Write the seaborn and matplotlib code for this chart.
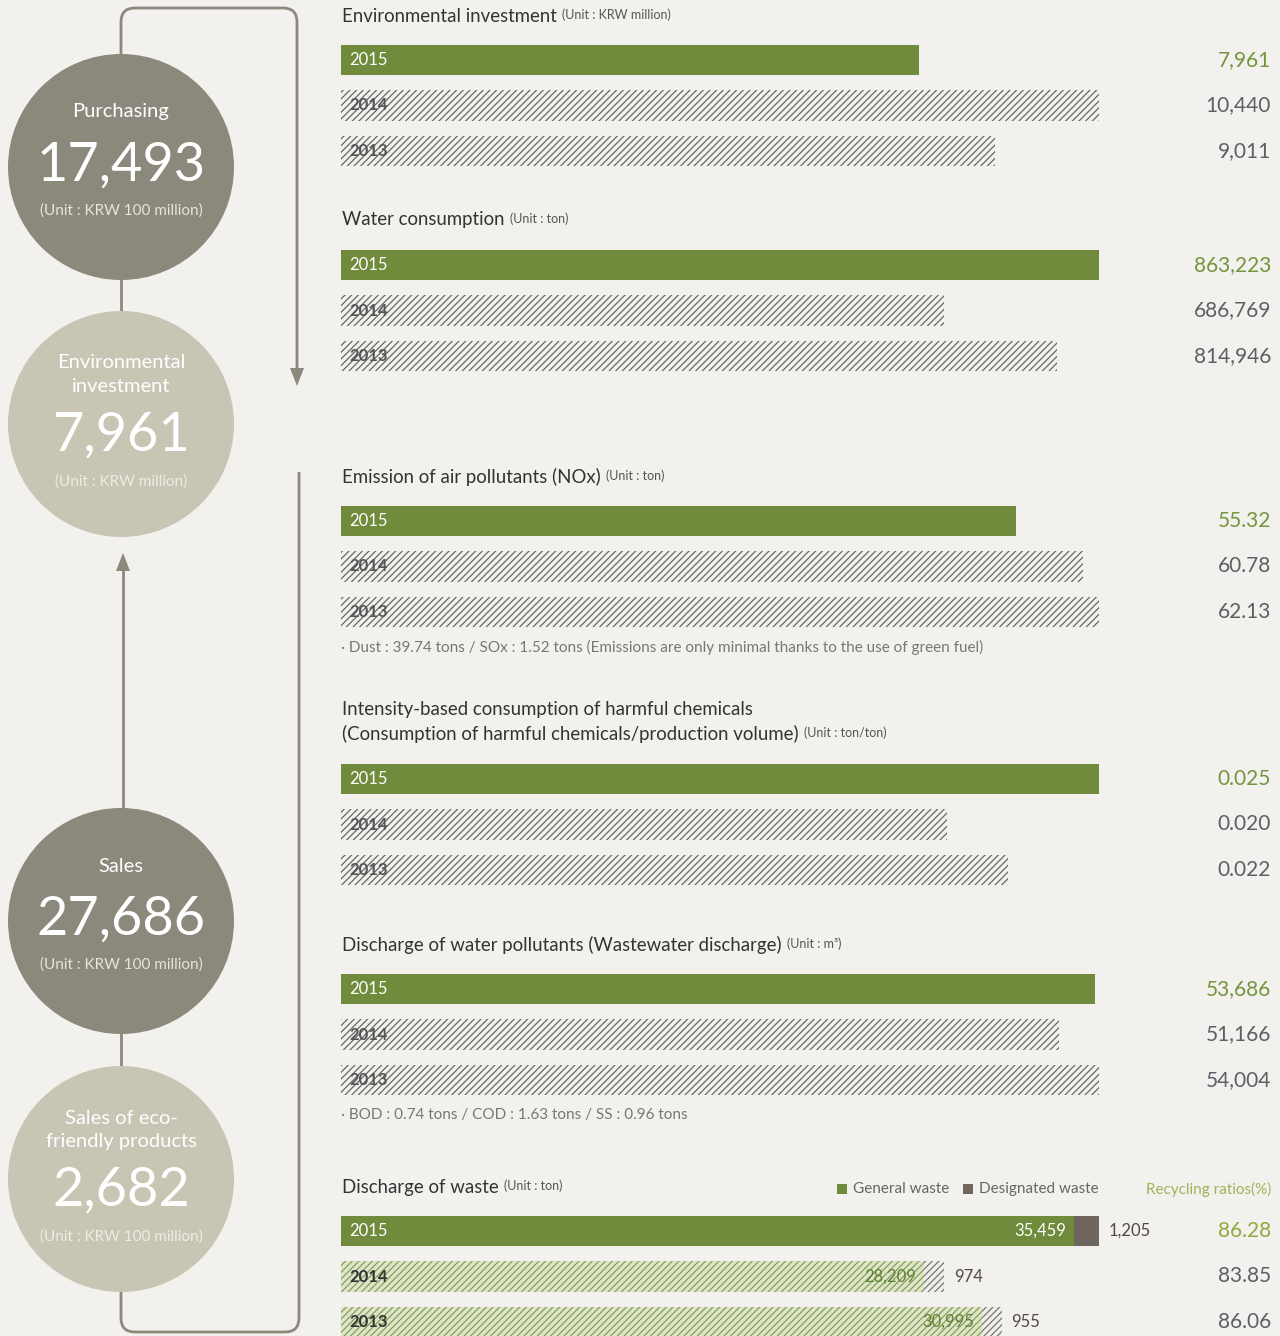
import matplotlib
matplotlib.use("Agg")
import matplotlib.pyplot as plt
from matplotlib.patches import Circle, PathPatch, Polygon
from matplotlib.path import Path
import seaborn as sns

sns.set_theme(style="white")
plt.rcParams['font.family'] = ['Lato', 'DejaVu Sans']
plt.rcParams['hatch.linewidth'] = 0.9

# ---------------- data ----------------
years = ["2015", "2014", "2013"]

invest_vals = [7961, 10440, 9011]
invest_labels = ["7,961", "10,440", "9,011"]

water_vals = [863223, 686769, 814946]
water_labels = ["863,223", "686,769", "814,946"]

nox_vals = [55.32, 60.78, 62.13]
nox_labels = ["55.32", "60.78", "62.13"]

chem_vals = [0.025, 0.020, 0.022]
chem_labels = ["0.025", "0.020", "0.022"]

wastewater_vals = [53686, 51166, 54004]
wastewater_labels = ["53,686", "51,166", "54,004"]

general_waste = [35459, 28209, 30995]
general_labels = ["35,459", "28,209", "30,995"]
designated_waste = [1205, 974, 955]
designated_labels = ["1,205", "974", "955"]
recycling_ratio = ["86.28", "83.85", "86.06"]

circle_titles = ["Purchasing", "Environmental\ninvestment", "Sales", "Sales of eco-\nfriendly products"]
circle_values = ["17,493", "7,961", "27,686", "2,682"]
circle_units = ["(Unit : KRW 100 million)", "(Unit : KRW million)",
                "(Unit : KRW 100 million)", "(Unit : KRW 100 million)"]

# ---------------- style ----------------
BG = "#f2f1ed"
DARK_CIRCLE = "#8b887c"
LIGHT_CIRCLE = "#c8c5b5"
LINE = "#8b887c"
GREEN = "#6f8b3b"
GREEN_TXT = "#74953c"
GRAY_TXT = "#5c5f66"
TITLE = "#333333"
HATCH_GRAY = "#666666"
BROWN = "#6e665c"
HATCH = "/////"

W, H = 1280, 1336
fig = plt.figure(figsize=(W / 100, H / 100), dpi=100, facecolor=BG)

# full-canvas axes in pixel units for the flow diagram and headings
bg = fig.add_axes([0, 0, 1, 1])
bg.set_xlim(0, W)
bg.set_ylim(H, 0)
bg.axis("off")

# ---------- flow diagram on the left ----------
CX, R = 121, 113
centers = [167, 424, 921, 1179]
fills = [DARK_CIRCLE, LIGHT_CIRCLE, DARK_CIRCLE, LIGHT_CIRCLE]
lw = 2.0


def rounded_path(pts, r):
    verts, codes = [pts[0]], [Path.MOVETO]
    for i in range(1, len(pts) - 1):
        p0, p1, p2 = pts[i - 1], pts[i], pts[i + 1]
        d0 = ((p1[0] - p0[0]), (p1[1] - p0[1]))
        d1 = ((p2[0] - p1[0]), (p2[1] - p1[1]))
        n0 = max(abs(d0[0]), abs(d0[1]))
        n1 = max(abs(d1[0]), abs(d1[1]))
        a = (p1[0] - d0[0] / n0 * r, p1[1] - d0[1] / n0 * r)
        b = (p1[0] + d1[0] / n1 * r, p1[1] + d1[1] / n1 * r)
        verts += [a, p1, b]
        codes += [Path.LINETO, Path.CURVE3, Path.CURVE3]
    verts.append(pts[-1])
    codes.append(Path.LINETO)
    return Path(verts, codes)


top_loop = rounded_path([(121, 60), (121, 8), (297, 8), (297, 372)], 14)
bg.add_patch(PathPatch(top_loop, fill=False, edgecolor=LINE, lw=lw))
bottom_loop = rounded_path([(121, 1285), (121, 1332), (299, 1332), (299, 472)], 14)
bg.add_patch(PathPatch(bottom_loop, fill=False, edgecolor=LINE, lw=lw))
# connectors
bg.plot([121, 121], [270, 320], color=LINE, lw=lw)
bg.plot([121, 121], [1024, 1075], color=LINE, lw=lw)
bg.plot([123, 123], [815, 566], color=LINE, lw=lw)
# arrow heads
bg.add_patch(Polygon([(290, 368), (304, 368), (297, 386)], closed=True, color=LINE, lw=0))
bg.add_patch(Polygon([(116, 571), (130, 571), (123, 553)], closed=True, color=LINE, lw=0))

for cy, fc, ttl, val, unit in zip(centers, fills, circle_titles, circle_values, circle_units):
    bg.add_patch(Circle((CX, cy), R, facecolor=fc, edgecolor="none", zorder=3))
    two_lines = "\n" in ttl
    ty = cy - 55 if not two_lines else cy - 49
    bg.text(CX, ty, ttl, ha="center", va="center", color="white", fontsize=14.5,
            linespacing=1.5, zorder=4)
    vy = cy - 2 if not two_lines else cy + 11
    bg.text(CX, vy, val, ha="center", va="center", color="white", fontsize=39,
            zorder=4)
    uy = cy + 44 if not two_lines else cy + 58
    bg.text(CX, uy, unit, ha="center", va="center",
            color="#e6e4dc" if fc == DARK_CIRCLE else "#eeece4", fontsize=11,
            zorder=4)

# ---------- bar sections ----------
BAR_L, BAR_W = 341, 758
STEP = 45.5
VAL_X = (1271 - BAR_L) / BAR_W
YEAR_X = 8 / BAR_W


def section_axes(y2015):
    top = y2015 - STEP / 2
    return fig.add_axes([BAR_L / W, 1 - (top + 3 * STEP) / H, BAR_W / W, 3 * STEP / H])


def heading(y, text, unit):
    t = bg.text(342, y, text, ha="left", va="center", color=TITLE, fontsize=13.4)
    bg.annotate(unit, xy=(1, 1), xycoords=t, xytext=(4, -1), textcoords="offset points",
                ha="left", va="top", color="#555555", fontsize=9)
    return t


def simple_section(y2015, vals, labels):
    ax = section_axes(y2015)
    sns.barplot(x=vals, y=years, order=years, orient="h", ax=ax, width=0.68,
                color=GREEN, errorbar=None, saturation=1)
    ax.set_xlim(0, max(vals))
    ax.set_ylim(2.5, -0.5)
    ax.axis("off")
    for i, p in enumerate(ax.patches):
        p.set_linewidth(0)
        if i == 0:
            p.set_facecolor(GREEN)
        else:
            p.set_facecolor(BG)
            p.set_edgecolor(HATCH_GRAY)
            p.set_hatch(HATCH)
    tr = ax.get_yaxis_transform()
    for i, (yr, lab) in enumerate(zip(years, labels)):
        ax.text(YEAR_X, i, yr, transform=tr, ha="left", va="center", fontsize=12,
                color="white" if i == 0 else "#555555",
                fontweight="bold" if i else "normal")
        ax.text(VAL_X, i, lab, transform=tr, ha="right", va="center", fontsize=15,
                color=GREEN_TXT if i == 0 else GRAY_TXT, clip_on=False)
    return ax


heading(16, "Environmental investment", "(Unit : KRW million)")
simple_section(60, invest_vals, invest_labels)

heading(220, "Water consumption", "(Unit : ton)")
simple_section(265, water_vals, water_labels)

heading(477, "Emission of air pollutants (NOx)", "(Unit : ton)")
simple_section(521, nox_vals, nox_labels)
bg.text(341, 647, "· Dust : 39.74 tons / SOx : 1.52 tons (Emissions are only minimal thanks to the use of green fuel)",
        ha="left", va="center", color="#777777", fontsize=11)

bg.text(342, 710, "Intensity-based consumption of harmful chemicals", ha="left", va="center",
        color=TITLE, fontsize=13.4)
heading(734, "(Consumption of harmful chemicals/production volume)", "(Unit : ton/ton)")
simple_section(779, chem_vals, chem_labels)

heading(945, "Discharge of water pollutants (Wastewater discharge)", "(Unit : m³)")
simple_section(989, wastewater_vals, wastewater_labels)
bg.text(341, 1115, "· BOD : 0.74 tons / COD : 1.63 tons / SS : 0.96 tons",
        ha="left", va="center", color="#777777", fontsize=11)

# ---------- waste section (stacked) ----------
heading(1187, "Discharge of waste", "(Unit : ton)")
totals = [g + d for g, d in zip(general_waste, designated_waste)]
axw = section_axes(1231)
sns.barplot(x=totals, y=years, order=years, orient="h", ax=axw, width=0.68,
            color=BROWN, errorbar=None, saturation=1)
n_tot = len(axw.patches)
sns.barplot(x=general_waste, y=years, order=years, orient="h", ax=axw, width=0.68,
            color=GREEN, errorbar=None, saturation=1)
axw.set_xlim(0, max(totals))
axw.set_ylim(2.5, -0.5)
axw.axis("off")
for i, p in enumerate(axw.patches):
    k = i % n_tot
    p.set_linewidth(0)
    if i < n_tot:
        if k == 0:
            p.set_facecolor(BROWN)
        else:
            p.set_facecolor("#efeee8")
            p.set_edgecolor("#777777")
            p.set_hatch(HATCH)
    else:
        if k == 0:
            p.set_facecolor(GREEN)
        else:
            p.set_facecolor("#dfe4cc")
            p.set_edgecolor("#86a052")
            p.set_hatch(HATCH)

trw = axw.transData
tyw = axw.get_yaxis_transform()
pad = max(totals) * 8 / BAR_W
for i, yr in enumerate(years):
    axw.text(YEAR_X, i, yr, transform=tyw, ha="left", va="center", fontsize=12,
             color="white" if i == 0 else "#333333", fontweight="normal" if i == 0 else "bold")
    axw.text(general_waste[i] - pad, i, general_labels[i], transform=trw, ha="right",
             va="center", fontsize=12, color="white" if i == 0 else "#5f8232")
    axw.text(totals[i] + pad * 1.2, i, designated_labels[i], transform=trw, ha="left",
             va="center", fontsize=12, color="#4f4a44", clip_on=False)
    axw.text(VAL_X, i, recycling_ratio[i], transform=tyw, ha="right", va="center",
             fontsize=15, color="#8eab3c" if i == 0 else GRAY_TXT, clip_on=False)

# legend and ratio header
bg.scatter([842, 968], [1189, 1189], marker="s", s=55, c=[GREEN, BROWN], linewidths=0)
bg.text(853, 1189, "General waste", ha="left", va="center", fontsize=11, color="#666666")
bg.text(979, 1189, "Designated waste", ha="left", va="center", fontsize=11, color="#666666")
bg.text(1271, 1189, "Recycling ratios(%)", ha="right", va="center", fontsize=11,
        color="#9db558")

fig.savefig("out.png", dpi=100, facecolor=BG)
